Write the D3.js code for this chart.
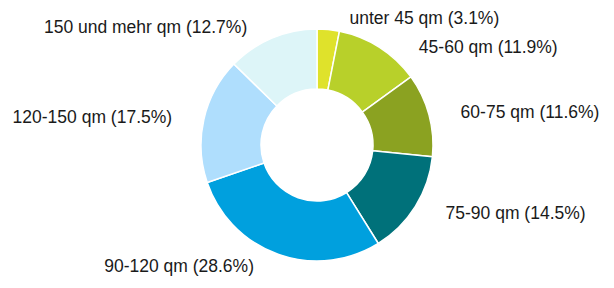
<!DOCTYPE html>
<html>
<head>
<meta charset="utf-8">
<script src="https://cdn.jsdelivr.net/npm/d3@7"></script>
<style>
  html, body { margin: 0; padding: 0; background: #ffffff; }
  svg { display: block; }
  text { font-family: "Liberation Sans", Arial, Helvetica, sans-serif; }
</style>
</head>
<body>
<svg id="chart" width="614" height="288"></svg>
<script>
const categories = ["unter 45 qm", "45-60 qm", "60-75 qm", "75-90 qm", "90-120 qm", "120-150 qm", "150 und mehr qm"];
const shares = [3.1, 11.9, 11.6, 14.5, 28.6, 17.5, 12.7];
const percentLabels = ["3.1%", "11.9%", "11.6%", "14.5%", "28.6%", "17.5%", "12.7%"];
const colors = ["#dfe22b", "#b8d02a", "#8ba221", "#00717a", "#00a0de", "#afdefd", "#ddf5f8"];

const width = 614, height = 288;
const cx = 317, cy = 145;
const outerR = 116, innerR = 56;
const labelR = 128, labelPad = 20, minGap = 29;

const data = categories.map((c, i) => ({ name: c, value: shares[i], label: percentLabels[i], color: colors[i] }));

const svg = d3.select("#chart");
const g = svg.append("g").attr("transform", `translate(${cx},${cy})`);

const pie = d3.pie().value(d => d.value).sort(null);
const arc = d3.arc().innerRadius(innerR).outerRadius(outerR);
const arcs = pie(data);

g.selectAll("path.slice")
  .data(arcs)
  .join("path")
  .attr("class", "slice")
  .attr("d", arc)
  .attr("fill", d => d.data.color)
  .attr("stroke", "#ffffff")
  .attr("stroke-width", 1.5)
  .attr("stroke-linejoin", "round");

// label layout: place on a circle, then push apart vertically per side
const labels = arcs.map(d => {
  const a = (d.startAngle + d.endAngle) / 2;
  return { d, right: Math.sin(a) >= 0, y: -labelR * Math.cos(a) };
});
[true, false].forEach(side => {
  const list = labels.filter(l => l.right === side).sort((p, q) => p.y - q.y);
  for (let i = 1; i < list.length; i++) {
    if (list[i].y - list[i - 1].y < minGap) list[i].y = list[i - 1].y + minGap;
  }
});
labels.forEach(l => {
  const dx = Math.sqrt(Math.max(0, labelR * labelR - l.y * l.y));
  l.x = l.right ? dx + labelPad : -dx - labelPad;
});

g.selectAll("text.lbl")
  .data(labels)
  .join("text")
  .attr("class", "lbl")
  .attr("x", l => l.x)
  .attr("y", l => l.y)
  .attr("dy", "0.35em")
  .attr("text-anchor", l => l.right ? "start" : "end")
  .attr("font-size", 17.5)
  .attr("fill", "#1a1a1a")
  .text(l => `${l.d.data.name} (${l.d.data.label})`);
</script>
</body>
</html>
